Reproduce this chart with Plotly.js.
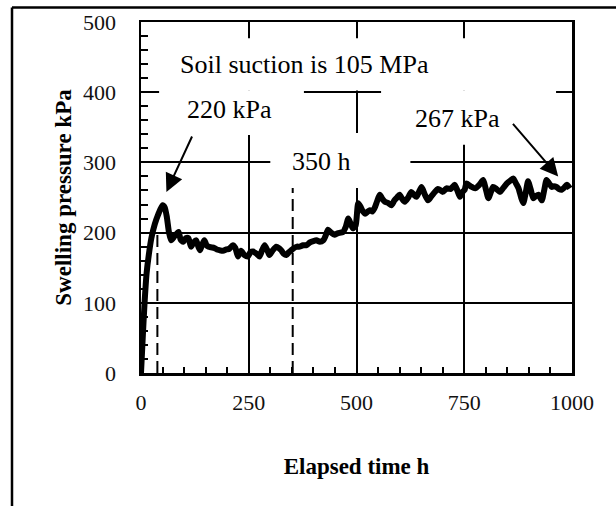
<!DOCTYPE html>
<html>
<head>
<meta charset="utf-8">
<script src="https://cdn.plot.ly/plotly-3.0.1.min.js"></script>
<style>
html,body{margin:0;padding:0;background:#fff;}
#chart{width:616px;height:506px;}
</style>
</head>
<body>
<div id="chart"></div>
<script>
// Elapsed time (h)
var timeH = [0,4,8,13,18,24,32,40,50,55,60,65,70,78,87,92,98,104,110,116,122,128,133,137,142,147,152,157,163,170,176,182,190,198,205,213,219,225,232,240,248,254,260,268,275,281,287,293,298,306,314,320,325,331,337,343,349,355,362,368,376,384,392,400,407,415,423,428,434,441,449,456,463,469,475,481,487,492,498,504,510,515,520,526,531,537,542,548,554,560,566,574,581,588,594,600,606,612,620,627,633,639,645,651,658,666,674,682,688,693,700,709,718,728,734,740,746,751,755,765,775,785,794,800,806,812,817,825,833,841,849,857,864,870,876,882,887,893,898,904,910,916,922,926,930,936,941,947,953,958,964,970,976,982,988,995];
// Swelling pressure (kPa)
var pressureKPa = [0,50,97,142,168,192,212,226,239,236,222,200,189,195,201,190,187,192,192,180,186,189,180,175,183,189,182,180,179,178,176,175,174,176,177,182,178,166,174,168,166,172,173,170,166,175,182,175,168,175,180,178,175,170,168,172,175,178,180,180,182,182,186,188,189,187,189,195,204,200,197,199,200,201,208,220,212,206,210,242,236,230,227,230,232,230,235,245,254,248,244,242,239,246,250,254,248,244,250,258,254,251,258,265,255,246,252,258,262,261,258,263,262,268,260,251,258,261,270,266,263,268,275,262,249,258,265,262,258,264,270,274,277,270,263,250,242,258,273,262,249,252,254,250,246,262,275,270,265,266,265,262,261,264,268,263];

// Reference markers
var dashTimes = [38, 352];
var dashTops = [200, 268];

// Text labels
var noteSuction = 'Soil suction is 105 MPa';
var notePeak = '220 kPa';
var noteEnd = '267 kPa';
var noteTime = '350 h';

var xTitle = 'Elapsed time h';
var yTitle = 'Swelling pressure kPa';

var FONT = '"Liberation Serif", "Times New Roman", Times, serif';

var trace = {
  x: timeH,
  y: pressureKPa,
  type: 'scatter',
  mode: 'lines',
  line: {color: '#000', width: 6, shape: 'spline', smoothing: 0.6},
  hoverinfo: 'skip'
};

var shapes = [];
// white boxes (text boxes of the original) hiding the gridlines
function whiteBox(x0, x1, y0, y1) {
  shapes.push({type: 'rect', xref: 'x', yref: 'y', x0: x0, x1: x1, y0: y0, y1: y1,
    fillcolor: '#fff', line: {width: 0}, layer: 'between'});
}
whiteBox(42, 963, 402.5, 477);   // suction note
whiteBox(42, 378, 339, 402.6);   // 220 kPa note
whiteBox(557, 963, 325, 402.6);  // 267 kPa note
whiteBox(300, 625, 263.5, 342);  // 350 h note

// dashed verticals
for (var i = 0; i < dashTimes.length; i++) {
  shapes.push({type: 'line', xref: 'x', yref: 'y', x0: dashTimes[i], x1: dashTimes[i], y0: 0, y1: dashTops[i],
    line: {color: '#000', width: 2, dash: '12px,6px'}, layer: 'below'});
}
// outer frame (left and top edges)
shapes.push({type: 'line', xref: 'paper', yref: 'paper', x0: -0.2993, x1: 1.2, y0: 1.0413, y1: 1.0413,
  line: {color: '#000', width: 2.5}});
shapes.push({type: 'line', xref: 'paper', yref: 'paper', x0: -0.2993, x1: -0.2993, y0: 1.0413, y1: -0.5,
  line: {color: '#000', width: 2.5}});

var annFont = {family: FONT, size: 26, color: '#000'};
var annotations = [
  {x: 86, y: 439, xref: 'x', yref: 'y', text: noteSuction, showarrow: false, xanchor: 'left', yanchor: 'middle', font: annFont},
  {x: 102, y: 375, xref: 'x', yref: 'y', text: notePeak, showarrow: false, xanchor: 'left', yanchor: 'middle', font: annFont},
  {x: 632, y: 362, xref: 'x', yref: 'y', text: noteEnd, showarrow: false, xanchor: 'left', yanchor: 'middle', font: annFont},
  {x: 346, y: 302, xref: 'x', yref: 'y', text: noteTime, showarrow: false, xanchor: 'left', yanchor: 'middle', font: annFont},
  // arrows
  {x: 59, y: 258, xref: 'x', yref: 'y', ax: 120, ay: 339, axref: 'x', ayref: 'y', text: '', showarrow: true,
    arrowhead: 2, arrowsize: 1.8, arrowwidth: 2, arrowcolor: '#000', standoff: 0},
  {x: 968, y: 280, xref: 'x', yref: 'y', ax: 860, ay: 357, axref: 'x', ayref: 'y', text: '', showarrow: true,
    arrowhead: 2, arrowsize: 1.8, arrowwidth: 2, arrowcolor: '#000', standoff: 0}
];

var layout = {
  width: 616,
  height: 506,
  margin: {l: 141, r: 44, t: 22, b: 133, pad: 0},
  paper_bgcolor: '#fff',
  plot_bgcolor: '#fff',
  showlegend: false,
  font: {family: FONT, color: '#000'},
  xaxis: {
    range: [0, 1000],
    dtick: 250,
    tick0: 0,
    showgrid: true,
    gridcolor: '#000',
    gridwidth: 2,
    zeroline: false,
    showline: true,
    linecolor: '#000',
    linewidth: 2.5,
    mirror: true,
    ticks: 'inside',
    ticklen: 7,
    tickwidth: 2,
    tickcolor: '#000',
    minor: {dtick: 50, ticks: 'inside', ticklen: 6, tickwidth: 2, tickcolor: '#000', showgrid: false},
    tickfont: {family: FONT, size: 22, color: '#111'},
    ticklabelstandoff: 8,
    title: {text: '<b>' + xTitle + '</b>', font: {family: FONT, size: 23, color: '#000'}, standoff: 44},
    fixedrange: true
  },
  yaxis: {
    range: [0, 500],
    dtick: 100,
    tick0: 0,
    showgrid: true,
    gridcolor: '#000',
    gridwidth: 2,
    zeroline: false,
    showline: true,
    linecolor: '#000',
    linewidth: 2.5,
    mirror: true,
    ticks: 'inside',
    ticklen: 7,
    tickwidth: 2,
    tickcolor: '#000',
    minor: {dtick: 20, ticks: 'inside', ticklen: 7, tickwidth: 2, tickcolor: '#000', showgrid: false},
    tickfont: {family: FONT, size: 22, color: '#111'},
    ticklabelstandoff: 18,
    title: {text: '<b>' + yTitle + '</b>', font: {family: FONT, size: 23, color: '#000'}, standoff: 5},
    fixedrange: true
  },
  shapes: shapes,
  annotations: annotations
};

Plotly.newPlot('chart', [trace], layout, {displayModeBar: false, staticPlot: true});
</script>
</body>
</html>
